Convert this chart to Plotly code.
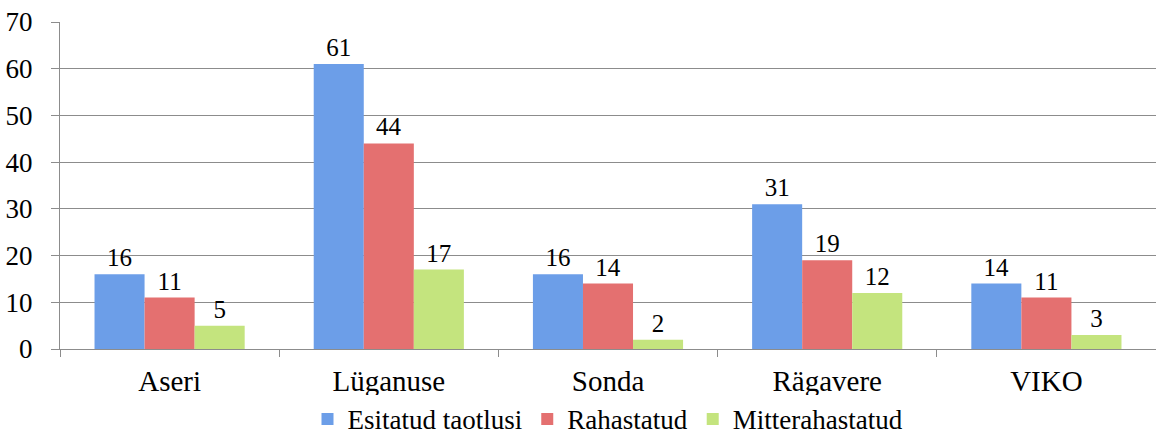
import plotly.graph_objects as go

categories = ["Aseri", "Lüganuse", "Sonda", "Rägavere", "VIKO"]
series_names = ["Esitatud taotlusi", "Rahastatud", "Mitterahastatud"]
esitatud = [16, 61, 16, 31, 14]
rahastatud = [11, 44, 14, 19, 11]
mitterahastatud = [5, 17, 2, 12, 3]
y_ticks = [0, 10, 20, 30, 40, 50, 60, 70]

colors = ["#6c9ee8", "#e47070", "#c4e47e"]
values = [esitatud, rahastatud, mitterahastatud]

FONT = "Liberation Serif, Times New Roman, serif"

fig = go.Figure()
for name, vals, col in zip(series_names, values, colors):
    fig.add_trace(go.Bar(
        x=categories, y=vals, name=name,
        marker=dict(color=col, line=dict(width=0)),
        text=[str(v) for v in vals], textposition="outside",
        textfont=dict(family=FONT, size=25, color="#000"),
        cliponaxis=False,
    ))

fig.update_layout(
    width=1156, height=445,
    margin=dict(l=60, r=0, t=22, b=96, autoexpand=False),
    paper_bgcolor="white", plot_bgcolor="white",
    barmode="group", bargap=0.315, bargroupgap=0,
    font=dict(family=FONT, size=27, color="#000"),
    showlegend=True,
    legend=dict(orientation="h", x=0.5, xanchor="center", y=-0.29, yanchor="bottom",
                font=dict(family=FONT, size=27, color="#000"), itemwidth=30,
                traceorder="normal", tracegroupgap=0),
    xaxis=dict(showline=True, linecolor="#8c8c8c", linewidth=1, automargin=False,
               ticks="outside", ticklen=7, tickcolor="#8c8c8c", tickson="boundaries",
               ticklabelstandoff=6,
               tickfont=dict(family=FONT, size=29, color="#000")),
    yaxis=dict(range=[0, 70], tickvals=y_ticks, showgrid=True, gridcolor="#8c8c8c",
               gridwidth=1, showline=True, linecolor="#8c8c8c", linewidth=1,
               automargin=False, ticklabelstandoff=13,
               ticks="outside", ticklen=8, tickcolor="#8c8c8c", zeroline=False,
               tickfont=dict(family=FONT, size=27, color="#000")),
)

fig.write_html("out.html", config={"displayModeBar": False},
               post_script="document.body.style.margin='0px';")
